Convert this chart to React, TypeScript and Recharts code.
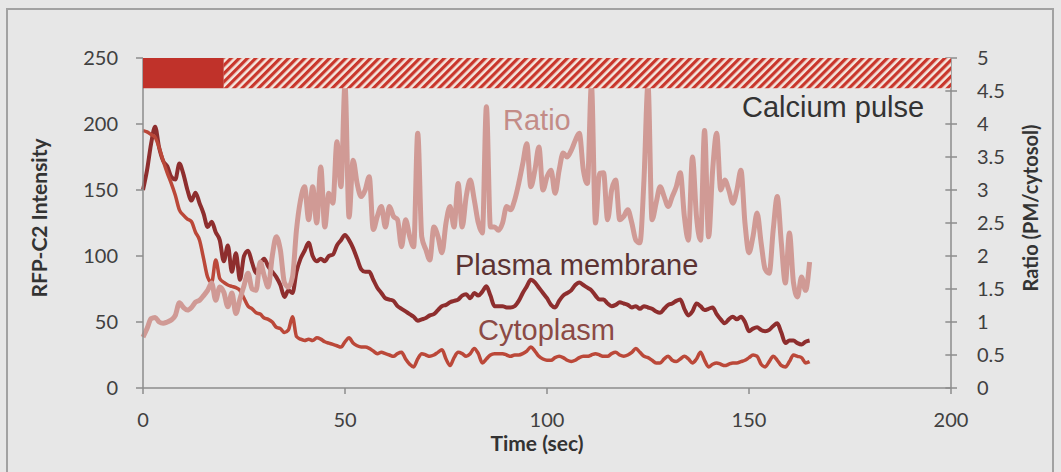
import {
  Line,
  LineChart,
  ReferenceArea,
  ReferenceLine,
  XAxis,
  YAxis,
} from "recharts";

// sample times (sec)
const timeSec = [
  0, 1, 2, 3, 4, 5, 6, 7, 8, 9, 10, 11, 12, 13, 14, 15, 16, 17, 18, 19,
  20, 21, 22, 23, 24, 25, 26, 27, 28, 29, 30, 31, 32, 33, 34, 35, 36, 37, 38, 39,
  40, 41, 42, 43, 44, 45, 46, 47, 48, 49, 50, 51, 52, 53, 54, 55, 56, 57, 58, 59,
  60, 61, 62, 63, 64, 65, 66, 67, 68, 69, 70, 71, 72, 73, 74, 75, 76, 77, 78, 79,
  80, 81, 82, 83, 84, 85, 86, 87, 88, 89, 90, 91, 92, 93, 94, 95, 96, 97, 98, 99,
  100, 101, 102, 103, 104, 105, 106, 107, 108, 109, 110, 111, 112, 113, 114, 115, 116, 117, 118, 119,
  120, 121, 122, 123, 124, 125, 126, 127, 128, 129, 130, 131, 132, 133, 134, 135, 136, 137, 138, 139,
  140, 141, 142, 143, 144, 145, 146, 147, 148, 149, 150, 151, 152, 153, 154, 155, 156, 157, 158, 159,
  160, 161, 162, 163, 164, 165,
];

const plasmaMembrane = [
  150, 165, 185, 198, 182, 172, 168, 160, 158, 170, 162, 150, 142, 148, 140, 132, 122, 126, 118, 112,
  96, 108, 88, 102, 82, 100, 104, 95, 87, 94, 98, 92, 88, 84, 78, 69, 74, 72, 88, 98,
  104, 110, 100, 96, 98, 96, 100, 101, 108, 112, 116, 112, 106, 98, 90, 88, 88, 82, 76, 72,
  68, 67, 66, 62, 60, 58, 56, 54, 51, 52, 53, 55, 56, 59, 62, 63, 65, 66, 67, 70,
  71, 68, 72, 70, 73, 77, 70, 62, 62, 62, 61, 61, 62, 66, 72, 77, 82, 80, 76, 72,
  68, 63, 61, 66, 70, 72, 74, 78, 80, 78, 76, 74, 70, 67, 67, 64, 62, 63, 65, 64,
  63, 61, 62, 60, 62, 61, 60, 58, 57, 60, 63, 64, 66, 67, 60, 55, 58, 64, 62, 59,
  60, 61, 56, 52, 49, 52, 54, 52, 54, 50, 43, 45, 46, 44, 43, 44, 47, 49, 42, 34,
  36, 36, 34, 33, 35, 36,
];

const cytoplasm = [
  195, 194, 192, 190, 182, 172, 163, 155, 146, 135, 131, 128, 126, 118, 112, 98, 84, 80, 97, 83,
  80, 78, 77, 76, 74, 68, 62, 60, 57, 56, 53, 52, 50, 46, 45, 42, 44, 54, 39, 37,
  36, 37, 36, 38, 37, 35, 34, 33, 32, 31, 35, 38, 34, 32, 31, 31, 30, 28, 26, 27,
  26, 25, 24, 26, 27, 22, 18, 16, 22, 26, 25, 24, 25, 27, 29, 22, 17, 23, 27, 26,
  24, 26, 30, 26, 19, 22, 25, 26, 26, 26, 25, 24, 25, 25, 26, 28, 31, 28, 24, 22,
  21, 21, 23, 24, 23, 21, 20, 21, 23, 24, 24, 25, 26, 25, 24, 24, 26, 27, 25, 24,
  25, 27, 30, 27, 24, 23, 21, 19, 19, 22, 24, 21, 20, 22, 24, 22, 19, 22, 27, 21,
  16, 18, 19, 18, 17, 18, 19, 19, 20, 21, 23, 25, 24, 18, 16, 20, 24, 21, 17, 16,
  20, 25, 24, 23, 19, 20,
];

const ratio = [
  0.77, 0.9, 1.05, 1.07, 1.0, 0.98, 1.0, 1.03, 1.1, 1.29, 1.22, 1.18, 1.22, 1.3, 1.33, 1.4, 1.48, 1.59, 1.33, 1.53,
  1.45, 1.23, 1.44, 1.13, 1.35, 1.55, 1.74, 1.5, 1.48, 1.91, 1.7, 1.53, 2.0, 2.29, 2.09, 1.6, 1.53, 1.68, 2.4, 2.85,
  3.05, 2.55, 3.05, 2.5, 3.35, 2.44, 2.95, 2.8, 3.73, 3.05, 4.6, 2.59, 3.45, 3.1, 2.9, 3.0, 3.2, 2.4, 2.6, 2.75,
  2.44, 2.75, 2.6, 2.55, 2.14, 2.55, 2.3, 2.14, 3.86, 2.29, 2.1, 1.94, 2.44, 2.3, 2.05, 2.5, 2.75, 2.44, 3.1, 2.44,
  2.9, 3.15, 2.85, 2.5, 2.35, 4.26, 2.44, 2.44, 2.39, 2.5, 2.75, 2.7, 2.85, 3.1, 3.4, 3.7, 3.05, 3.3, 3.65, 3.0,
  3.2, 3.3, 2.95, 3.3, 3.56, 3.5, 3.6, 3.75, 3.86, 3.3, 3.1, 4.6, 2.5, 3.25, 3.26, 2.55, 3.0, 3.15, 2.55, 2.6,
  2.7, 2.5, 2.24, 2.2, 3.15, 4.6, 2.55, 2.8, 3.05, 2.9, 2.75, 2.9, 3.05, 3.26, 2.6, 2.24, 3.5, 2.6, 2.24, 3.9,
  2.29, 3.3, 3.86, 3.0, 3.15, 3.0, 2.8, 3.0, 3.3, 2.5, 2.05, 2.3, 2.65, 2.2, 1.8, 1.74, 2.4, 2.9, 2.2, 1.59,
  2.35, 1.6, 1.38, 1.68, 1.48, 1.91,
];

const timeTicks = [0, 50, 100, 150, 200];
const intensityTicks = [0, 50, 100, 150, 200, 250];
const ratioTicks = [0, 0.5, 1, 1.5, 2, 2.5, 3, 3.5, 4, 4.5, 5];

// calcium pulse bar: solid, then hatched (sec)
const pulseOn = [0, 20];
const pulseOff = [20, 200];
const pulseBand = [227, 250];

const pmData = timeSec.map((t, i) => ({ t, v: plasmaMembrane[i] }));
const cytoData = timeSec.map((t, i) => ({ t, v: cytoplasm[i] }));
const ratioData = timeSec.map((t, i) => ({ t, v: ratio[i] }));

const axisColor = "#8c8c8c";
const tickStyle = { fontFamily: "Lato", fontSize: 20, fill: "#404040" };

export default function App() {
  return (
    <div
      style={{
        position: "fixed",
        left: 0,
        top: 0,
        width: 1061,
        height: 472,
        background: "#e7e7e7",
        overflow: "hidden",
      }}
    >
      <div
        style={{
          position: "absolute",
          left: 6,
          top: 8,
          width: 1044,
          height: 480,
          border: "2px solid #a2a2a2",
        }}
      />
      <div style={{ position: "absolute", left: 0, top: 0 }}>
        <LineChart
          width={1061}
          height={472}
          margin={{ top: 58, right: 30, bottom: 34, left: 63 }}
        >
          <defs>
            <pattern
              id="hatch"
              width="5.8"
              height="5.8"
              patternUnits="userSpaceOnUse"
              patternTransform="rotate(45)"
            >
              <rect width="5.8" height="5.8" fill="#f4e6de" />
              <rect width="3.2" height="5.8" fill="#c9362c" />
            </pattern>
          </defs>
          <XAxis
            dataKey="t"
            type="number"
            domain={[0, 200]}
            ticks={timeTicks}
            height={50}
            stroke={axisColor}
            strokeWidth={1.5}
            tickSize={6}
            tickMargin={19}
            tick={tickStyle}
          />
          <YAxis
            yAxisId="l"
            domain={[0, 250]}
            ticks={intensityTicks}
            width={80}
            stroke={axisColor}
            strokeWidth={1.5}
            tickSize={7}
            tickMargin={18}
            tick={tickStyle}
          />
          <YAxis
            yAxisId="r"
            orientation="right"
            domain={[0, 5]}
            ticks={ratioTicks}
            width={80}
            stroke={axisColor}
            strokeWidth={1.5}
            tickSize={6}
            tickMargin={20}
            tick={tickStyle}
          />
          {ratioTicks.map((v) => (
            <ReferenceLine
              key={v}
              yAxisId="r"
              segment={[
                { x: 198.6, y: v },
                { x: 200, y: v },
              ]}
              stroke={axisColor}
              strokeWidth={1.5}
            />
          ))}
          <Line
            data={pmData}
            dataKey="v"
            yAxisId="l"
            type="monotone"
            stroke="#8e2e2e"
            strokeWidth={4}
            dot={false}
            activeDot={false}
            isAnimationActive={false}
          />
          <Line
            data={cytoData}
            dataKey="v"
            yAxisId="l"
            type="monotone"
            stroke="#bb4839"
            strokeWidth={3.5}
            dot={false}
            activeDot={false}
            isAnimationActive={false}
          />
          <Line
            data={ratioData}
            dataKey="v"
            yAxisId="r"
            type="monotone"
            stroke="#d09a95"
            strokeWidth={5}
            dot={false}
            activeDot={false}
            isAnimationActive={false}
          />
          <ReferenceArea
            yAxisId="l"
            x1={pulseOn[0]}
            x2={pulseOn[1]}
            y1={pulseBand[0]}
            y2={pulseBand[1]}
            fill="#c0322a"
            fillOpacity={1}
            stroke="none"
            zIndex={900}
          />
          <ReferenceArea
            yAxisId="l"
            x1={pulseOff[0]}
            x2={pulseOff[1]}
            y1={pulseBand[0]}
            y2={pulseBand[1]}
            fill="url(#hatch)"
            fillOpacity={1}
            stroke="none"
            zIndex={900}
          />
        </LineChart>
      </div>
      <svg
        width={1061}
        height={472}
        style={{ position: "absolute", left: 0, top: 0, pointerEvents: "none" }}
      >
        <g fontFamily="Liberation Sans, Arial, sans-serif" fontSize={29}>
          <text x={742} y={117} fill="#333333">
            Calcium pulse
          </text>
          <text x={503} y={130} fill="#c38c87">
            Ratio
          </text>
          <text x={455} y={275} fill="#5c3333">
            Plasma membrane
          </text>
          <text x={478} y={340} fill="#8c4a45">
            Cytoplasm
          </text>
        </g>
        <g fontFamily="Lato" fontWeight="bold" fill="#333333">
          <text
            transform="translate(47,218) rotate(-90)"
            textAnchor="middle"
            fontSize={21}
          >
            RFP-C2 Intensity
          </text>
          <text
            transform="translate(1038,208) rotate(-90)"
            textAnchor="middle"
            fontSize={20}
          >
            Ratio (PM/cytosol)
          </text>
          <text x={537} y={451} textAnchor="middle" fontSize={21}>
            Time (sec)
          </text>
        </g>
      </svg>
    </div>
  );
}
